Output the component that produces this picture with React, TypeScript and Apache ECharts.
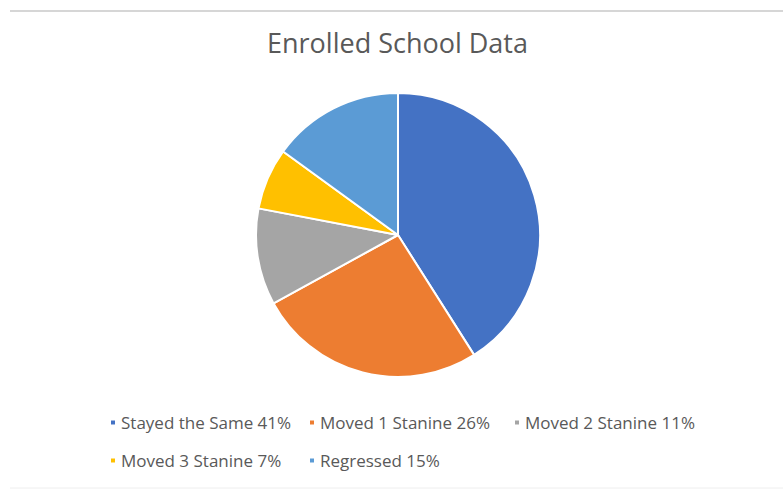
import React, { useEffect, useRef } from "react";
import * as echarts from "echarts";

const categories = ["Stayed the Same", "Moved 1 Stanine", "Moved 2 Stanine", "Moved 3 Stanine", "Regressed"];
const values = [41, 26, 11, 7, 15];
const colors = ["#4472C4", "#ED7D31", "#A5A5A5", "#FFC000", "#5B9BD5"];
const legendPos = [
  [104, 409],
  [303, 409],
  [508, 409],
  [104, 447],
  [303, 447],
];

export default function App() {
  const ref = useRef<HTMLDivElement>(null);
  useEffect(() => {
    document.body.style.margin = "0";
    const chart = echarts.init(ref.current!, null, { renderer: "svg" });
    const font = "'Open Sans', 'Noto Sans', sans-serif";
    chart.setOption({
      animation: false,
      backgroundColor: "#ffffff",
      title: {
        text: "Enrolled School Data",
        left: 262,
        top: 24,
        textStyle: { fontFamily: font, fontSize: 27, fontWeight: "normal", color: "#595959" },
      },
      legend: categories.map((c, i) => ({
        data: [c],
        left: legendPos[i][0],
        top: legendPos[i][1],
        icon: "rect",
        itemWidth: 6,
        itemHeight: 6,
        itemGap: 6,
        formatter: (name: string) => `${name} ${values[categories.indexOf(name)]}%`,
        textStyle: { fontFamily: font, fontSize: 17, color: "#595959" },
      })),
      graphic: [
        { type: "line", shape: { x1: 10, y1: 11, x2: 783, y2: 11 }, style: { stroke: "#d6d6d6", lineWidth: 2 } },
        { type: "line", shape: { x1: 10, y1: 488, x2: 783, y2: 488 }, style: { stroke: "#eeeeee", lineWidth: 1 } },
      ],
      series: [
        {
          type: "pie",
          center: [398, 235],
          radius: 142,
          startAngle: 90,
          clockwise: true,
          label: { show: false },
          labelLine: { show: false },
          itemStyle: { borderColor: "#ffffff", borderWidth: 2 },
          data: categories.map((c, i) => ({ name: c, value: values[i], itemStyle: { color: colors[i] } })),
        },
      ],
    });
    return () => chart.dispose();
  }, []);
  return <div ref={ref} style={{ width: 783, height: 489 }} />;
}
